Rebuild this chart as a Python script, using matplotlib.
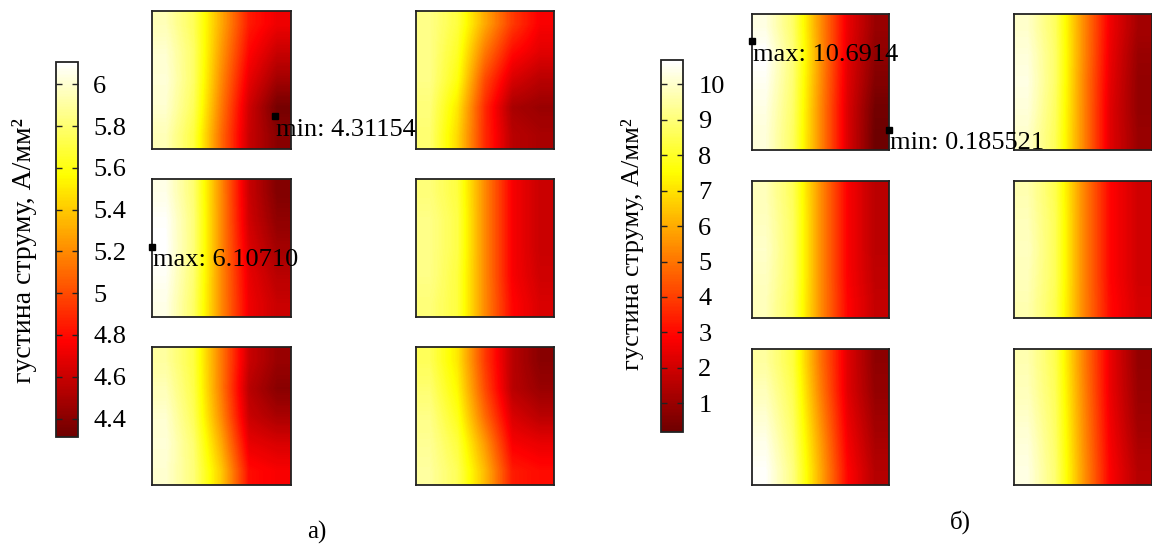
import numpy as np
import matplotlib
matplotlib.use('Agg')
import matplotlib.pyplot as plt
from matplotlib.colors import ListedColormap

plt.rcParams['font.family'] = ['Liberation Serif', 'DejaVu Serif']

# colour limits of the two colorbars
lim_a = (4.31154, 6.10710)
lim_b = (0.185521, 10.6914)
ticks_a = [4.4, 4.6, 4.8, 5.0, 5.2, 5.4, 5.6, 5.8, 6.0]
tick_labels_a = ['4.4', '4.6', '4.8', '5', '5.2', '5.4', '5.6', '5.8', '6']
ticks_b = [1, 2, 3, 4, 5, 6, 7, 8, 9, 10]
cbar_label = 'густина струму, А/мм²'

# current density fields (5x5, rows top->bottom, cols left->right)
a11 = [[5.95, 5.75, 5.30, 4.85, 4.72],
       [6.00, 5.78, 5.25, 4.78, 4.60],
       [6.02, 5.78, 5.20, 4.70, 4.48],
       [6.00, 5.75, 5.15, 4.62, 4.34],
       [5.95, 5.70, 5.10, 4.60, 4.40]]
a21 = [[6.05, 5.80, 5.20, 4.60, 4.38],
       [6.09, 5.82, 5.20, 4.62, 4.42],
       [6.10, 5.82, 5.20, 4.66, 4.48],
       [6.08, 5.80, 5.20, 4.70, 4.55],
       [6.05, 5.78, 5.20, 4.72, 4.60]]
a31 = [[5.90, 5.70, 5.15, 4.60, 4.45],
       [5.95, 5.72, 5.15, 4.55, 4.40],
       [6.00, 5.75, 5.20, 4.60, 4.50],
       [6.02, 5.80, 5.30, 4.70, 4.65],
       [6.00, 5.82, 5.40, 4.80, 4.75]]
a12 = [[5.85, 5.70, 5.30, 4.95, 4.75],
       [5.85, 5.65, 5.15, 4.80, 4.68],
       [5.85, 5.60, 5.00, 4.65, 4.55],
       [5.82, 5.50, 4.90, 4.50, 4.45],
       [5.80, 5.45, 4.90, 4.55, 4.50]]
a22 = [[5.82, 5.70, 5.20, 4.75, 4.60],
       [5.85, 5.72, 5.20, 4.75, 4.60],
       [5.85, 5.72, 5.20, 4.75, 4.60],
       [5.85, 5.70, 5.20, 4.75, 4.62],
       [5.82, 5.70, 5.20, 4.78, 4.65]]
a32 = [[5.75, 5.50, 4.95, 4.55, 4.40],
       [5.80, 5.55, 5.00, 4.55, 4.45],
       [5.85, 5.62, 5.10, 4.65, 4.55],
       [5.88, 5.70, 5.25, 4.75, 4.70],
       [5.90, 5.75, 5.35, 4.85, 4.80]]

b11 = [[10.3, 8.8, 5.5, 2.5, 1.0],
       [10.69, 9.0, 5.6, 2.4, 0.8],
       [10.5, 8.9, 5.5, 2.3, 0.6],
       [10.3, 8.8, 5.4, 2.2, 0.3],
       [10.2, 8.7, 5.4, 2.2, 0.2]]
b12 = [[10.0, 8.7, 5.5, 2.6, 1.2],
       [10.2, 8.8, 5.5, 2.5, 1.0],
       [10.3, 8.8, 5.4, 2.4, 0.9],
       [10.2, 8.7, 5.4, 2.3, 0.9],
       [10.0, 8.6, 5.4, 2.3, 1.0]]
b21 = [[9.8, 8.6, 5.5, 2.8, 1.6],
       [9.9, 8.7, 5.5, 2.8, 1.6],
       [10.0, 8.7, 5.5, 2.8, 1.6],
       [9.9, 8.7, 5.5, 2.8, 1.7],
       [9.8, 8.6, 5.5, 2.9, 1.8]]
b22 = [[9.7, 8.5, 5.4, 2.9, 2.0],
       [9.8, 8.6, 5.4, 2.9, 2.0],
       [9.9, 8.6, 5.4, 2.9, 2.0],
       [9.8, 8.6, 5.4, 2.9, 2.0],
       [9.7, 8.5, 5.4, 3.0, 2.1]]
b31 = [[9.5, 8.3, 5.0, 2.3, 0.8],
       [9.8, 8.5, 5.2, 2.3, 0.9],
       [10.1, 8.7, 5.5, 2.5, 1.1],
       [10.4, 8.9, 5.8, 2.7, 1.3],
       [10.6, 9.1, 6.0, 2.9, 1.5]]
b32 = [[9.7, 8.5, 5.3, 2.5, 0.9],
       [9.8, 8.6, 5.4, 2.5, 1.0],
       [10.0, 8.7, 5.5, 2.6, 1.1],
       [10.2, 8.8, 5.6, 2.7, 1.3],
       [10.3, 8.9, 5.7, 2.8, 1.5]]

# annotated extrema (axes fraction x, y from top)
a_min_pos = (0.885, 0.76)
a_max_pos = (0.0, 0.49)
b_max_pos = (0.0, 0.20)
b_min_pos = (1.0, 0.85)

W, H = 1152, 549
fig = plt.figure(figsize=(W / 100, H / 100), dpi=100)

cmap = ListedColormap(plt.cm.hot(np.linspace(0.15, 1.0, 256)))


def box(x0, y0, x1, y1):
    return [x0 / W, 1 - y1 / H, (x1 - x0) / W, (y1 - y0) / H]


def field(rect, data, lim):
    ax = fig.add_axes(box(*rect))
    im = ax.imshow(np.array(data), cmap=cmap, vmin=lim[0], vmax=lim[1],
                   extent=[0, 1, 1, 0], interpolation='bilinear', aspect='auto')
    ax.set_xticks([])
    ax.set_yticks([])
    for s in ax.spines.values():
        s.set_linewidth(1.3)
        s.set_color('#222222')
    return ax, im


def mark(ax, pos, text):
    ax.plot([pos[0]], [pos[1]], 's', color='black', ms=4, clip_on=False, zorder=5)
    ax.text(pos[0] + 0.01, pos[1] + 0.02, text, fontsize=19, ha='left', va='top',
            color='black', clip_on=False, zorder=6)
    ax.set_xlim(0, 1)
    ax.set_ylim(1, 0)


# panel а)
cols_a = [(152, 291), (416, 554)]
rows_a = [(11, 149), (179, 317), (347, 485)]
grid_a = [[a11, a12], [a21, a22], [a31, a32]]
axes_a = {}
for r, (y0, y1) in enumerate(rows_a):
    for c, (x0, x1) in enumerate(cols_a):
        axes_a[(r, c)], im_a = field((x0, y0, x1, y1), grid_a[r][c], lim_a)

# panel б)
cols_b = [(752, 889), (1014, 1152)]
rows_b = [(14, 150), (181, 318), (349, 485)]
grid_b = [[b11, b12], [b21, b22], [b31, b32]]
axes_b = {}
for r, (y0, y1) in enumerate(rows_b):
    for c, (x0, x1) in enumerate(cols_b):
        axes_b[(r, c)], im_b = field((x0, y0, x1, y1), grid_b[r][c], lim_b)

axes_a[(0, 0)].set_zorder(5)
axes_a[(1, 0)].set_zorder(5)
axes_b[(0, 0)].set_zorder(5)
mark(axes_a[(0, 0)], a_min_pos, 'min: %.5f' % lim_a[0])
mark(axes_a[(1, 0)], a_max_pos, 'max: 6.10710')
mark(axes_b[(0, 0)], b_max_pos, 'max: %.4f' % lim_b[1])
mark(axes_b[(0, 0)], b_min_pos, 'min: %.6f' % lim_b[0])

# colorbars
cax_a = fig.add_axes(box(56, 62, 78, 437))
cb_a = fig.colorbar(im_a, cax=cax_a, ticks=ticks_a)
cb_a.ax.set_yticklabels(tick_labels_a)
cax_b = fig.add_axes(box(661, 60, 683, 432))
cb_b = fig.colorbar(im_b, cax=cax_b, ticks=ticks_b)
for cb in (cb_a, cb_b):
    cb.outline.set_linewidth(1.3)
    cb.outline.set_edgecolor('#222222')
    cb.ax.tick_params(direction='in', left=True, right=True, length=4,
                      width=1, labelsize=19, pad=11, colors='#222222')
    cb.ax.tick_params(labelcolor='black')

fig.text(25 / W, 1 - 251 / H, cbar_label, rotation=90, fontsize=20,
         ha='center', va='center')
fig.text(633 / W, 1 - 244 / H, cbar_label, rotation=90, fontsize=19,
         ha='center', va='center')

fig.text(317 / W, 1 - 532 / H, 'а)', fontsize=18, ha='center', va='center')
fig.text(960 / W, 1 - 522 / H, 'б)', fontsize=18, ha='center', va='center')

fig.savefig('out.png', dpi=100, facecolor='white')
